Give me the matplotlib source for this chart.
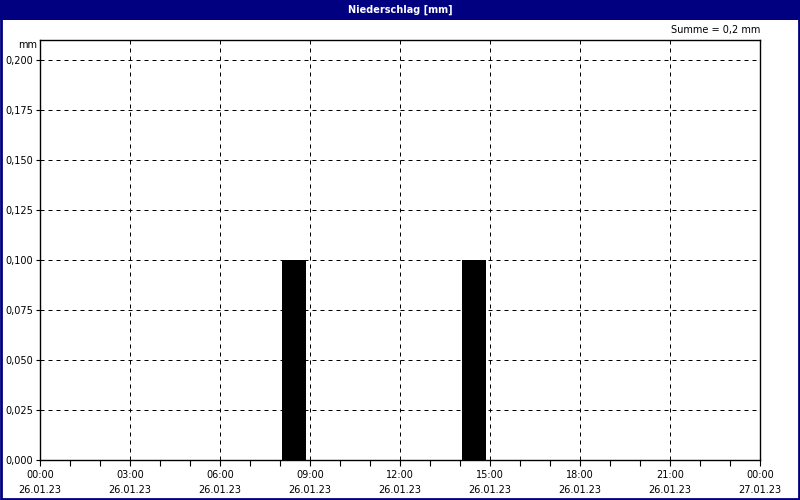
import matplotlib
matplotlib.use("Agg")
import matplotlib.pyplot as plt
import matplotlib.patches as patches
import numpy as np

# Niederschlag pro Stunde, 26.01.23
bar_start_h = [8, 14]          # Stundenbeginn
bar_values = [0.1, 0.1]        # mm
tick_hours = [0, 3, 6, 9, 12, 15, 18, 21, 24]
tick_times = ["00:00", "03:00", "06:00", "09:00", "12:00", "15:00", "18:00", "21:00", "00:00"]
tick_dates = ["26.01.23"] * 8 + ["27.01.23"]
y_ticks = [0.0, 0.025, 0.05, 0.075, 0.1, 0.125, 0.15, 0.175, 0.2]
summe = "Summe = 0,2 mm"

navy = "#000080"
plt.rcParams["font.family"] = ["DejaVu Sans"]

fig = plt.figure(figsize=(8, 5), dpi=100)
fig.patch.set_facecolor("white")

# Titelbalken und Rahmen
fig.patches.append(patches.Rectangle((0, 480 / 500), 1, 20 / 500, transform=fig.transFigure,
                                     facecolor=navy, edgecolor="none", zorder=0))
fig.patches.append(patches.Rectangle((0.001, 0.002), 0.998, 0.996, transform=fig.transFigure,
                                     facecolor="none", edgecolor=navy, linewidth=2, zorder=0))
fig.text(0.5, 490 / 500, "Niederschlag [mm]", color="white", fontsize=7, fontweight="bold",
         ha="center", va="center")

ax = fig.add_axes([40 / 800, 40 / 500, 720 / 800, 420 / 500])
ax.bar(np.array(bar_start_h) + 0.07, bar_values, width=0.8, align="edge",
       color="black", zorder=3)

ax.set_xlim(0, 24)
ax.set_ylim(0, 0.21)
ax.set_xticks(tick_hours)
ax.set_xticklabels([t + "\n" + d for t, d in zip(tick_times, tick_dates)],
                   fontsize=7, linespacing=1.65)
ax.set_xticks(range(25), minor=True)
ax.set_yticks(y_ticks)
ax.set_yticklabels([("%.3f" % v).replace(".", ",") for v in y_ticks], fontsize=7)

ax.tick_params(axis="both", which="both", direction="out", length=4, width=0.8, color="black", pad=3)
ax.tick_params(axis="y", length=3, pad=2)
ax.grid(True, which="major", color="black", linestyle=(0, (4, 4)), linewidth=0.72)
ax.set_axisbelow(False)
for s in ax.spines.values():
    s.set_linewidth(1.0)
    s.set_color("black")

ax.text(-0.004, 1.0, "mm", transform=ax.transAxes, fontsize=7, ha="right", va="top")
ax.text(1.0, 1.012, summe, transform=ax.transAxes, fontsize=7, ha="right", va="bottom")

fig.savefig("out.png", dpi=100)
